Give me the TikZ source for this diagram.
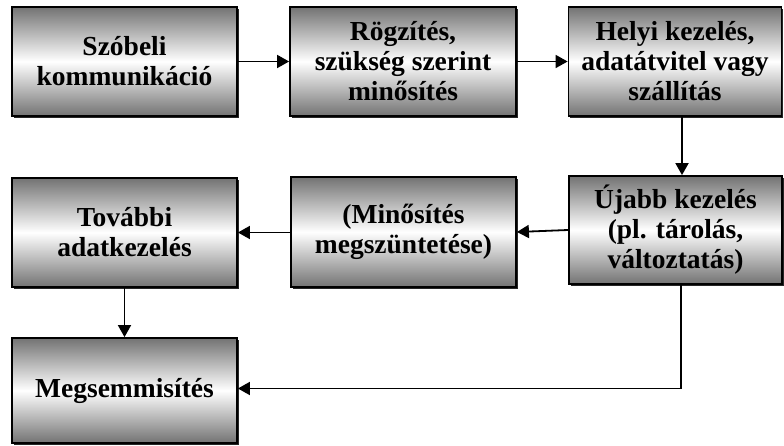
\documentclass[tikz,border=0pt]{standalone}
\usepackage{fontspec}
\setmainfont{Liberation Serif}
\usetikzlibrary{arrows.meta,shadows}
\begin{document}
\begin{tikzpicture}[x=1pt,y=-1pt,
  box/.style={draw=black, line width=1.8pt, inner sep=0pt, align=center,
    font=\bfseries\fontsize{27.5}{30}\selectfont,
    top color=black!55, bottom color=black!55, middle color=white,
    drop shadow={shadow xshift=1.8pt, shadow yshift=-1.8pt, fill=black, opacity=0.85}},
  conn/.style={line width=1.8pt, -{Triangle[length=12pt,width=13pt]}}]
\useasboundingbox (0,0) rectangle (784,446);
\node[box, minimum width=225pt, minimum height=109pt] (b1) at (124.5,61.5) {Szóbeli\\kommunikáció};
\node[box, minimum width=226pt, minimum height=109pt] (b2) at (403,61.5) {Rögzítés,\\szükség szerint\\minősítés};
\node[box, minimum width=213pt, minimum height=109pt] (b3) at (675,61.5) {Helyi kezelés,\\adatátvitel vagy\\szállítás};
\node[box, minimum width=213pt, minimum height=108pt] (b4) at (675.5,230) {Újabb kezelés\\(pl. tárolás,\\változtatás)};
\node[box, minimum width=225pt, minimum height=110pt] (b5) at (403.5,232) {(Minősítés\\megszüntetése)};
\node[box, minimum width=225pt, minimum height=109pt] (b6) at (124.5,232.5) {További\\adatkezelés};
\node[box, minimum width=225pt, minimum height=105pt] (b7) at (124.5,390.5) {Megsemmisítés};
\draw[conn] (b1) -- (b2);
\draw[conn] (b2) -- (b3);
\draw[conn] ([xshift=7pt]b3.south) -- ([xshift=7pt]b3.south |- b4.north);
\draw[conn] (b4.west) -- (b5.east);
\draw[conn] (b5.west |- b6.east) -- (b6.east);
\draw[conn] (b6) -- (b7);
\draw[conn] ([xshift=5.5pt]b4.south) |- ([yshift=2pt]b7.east);
\end{tikzpicture}
\end{document}
